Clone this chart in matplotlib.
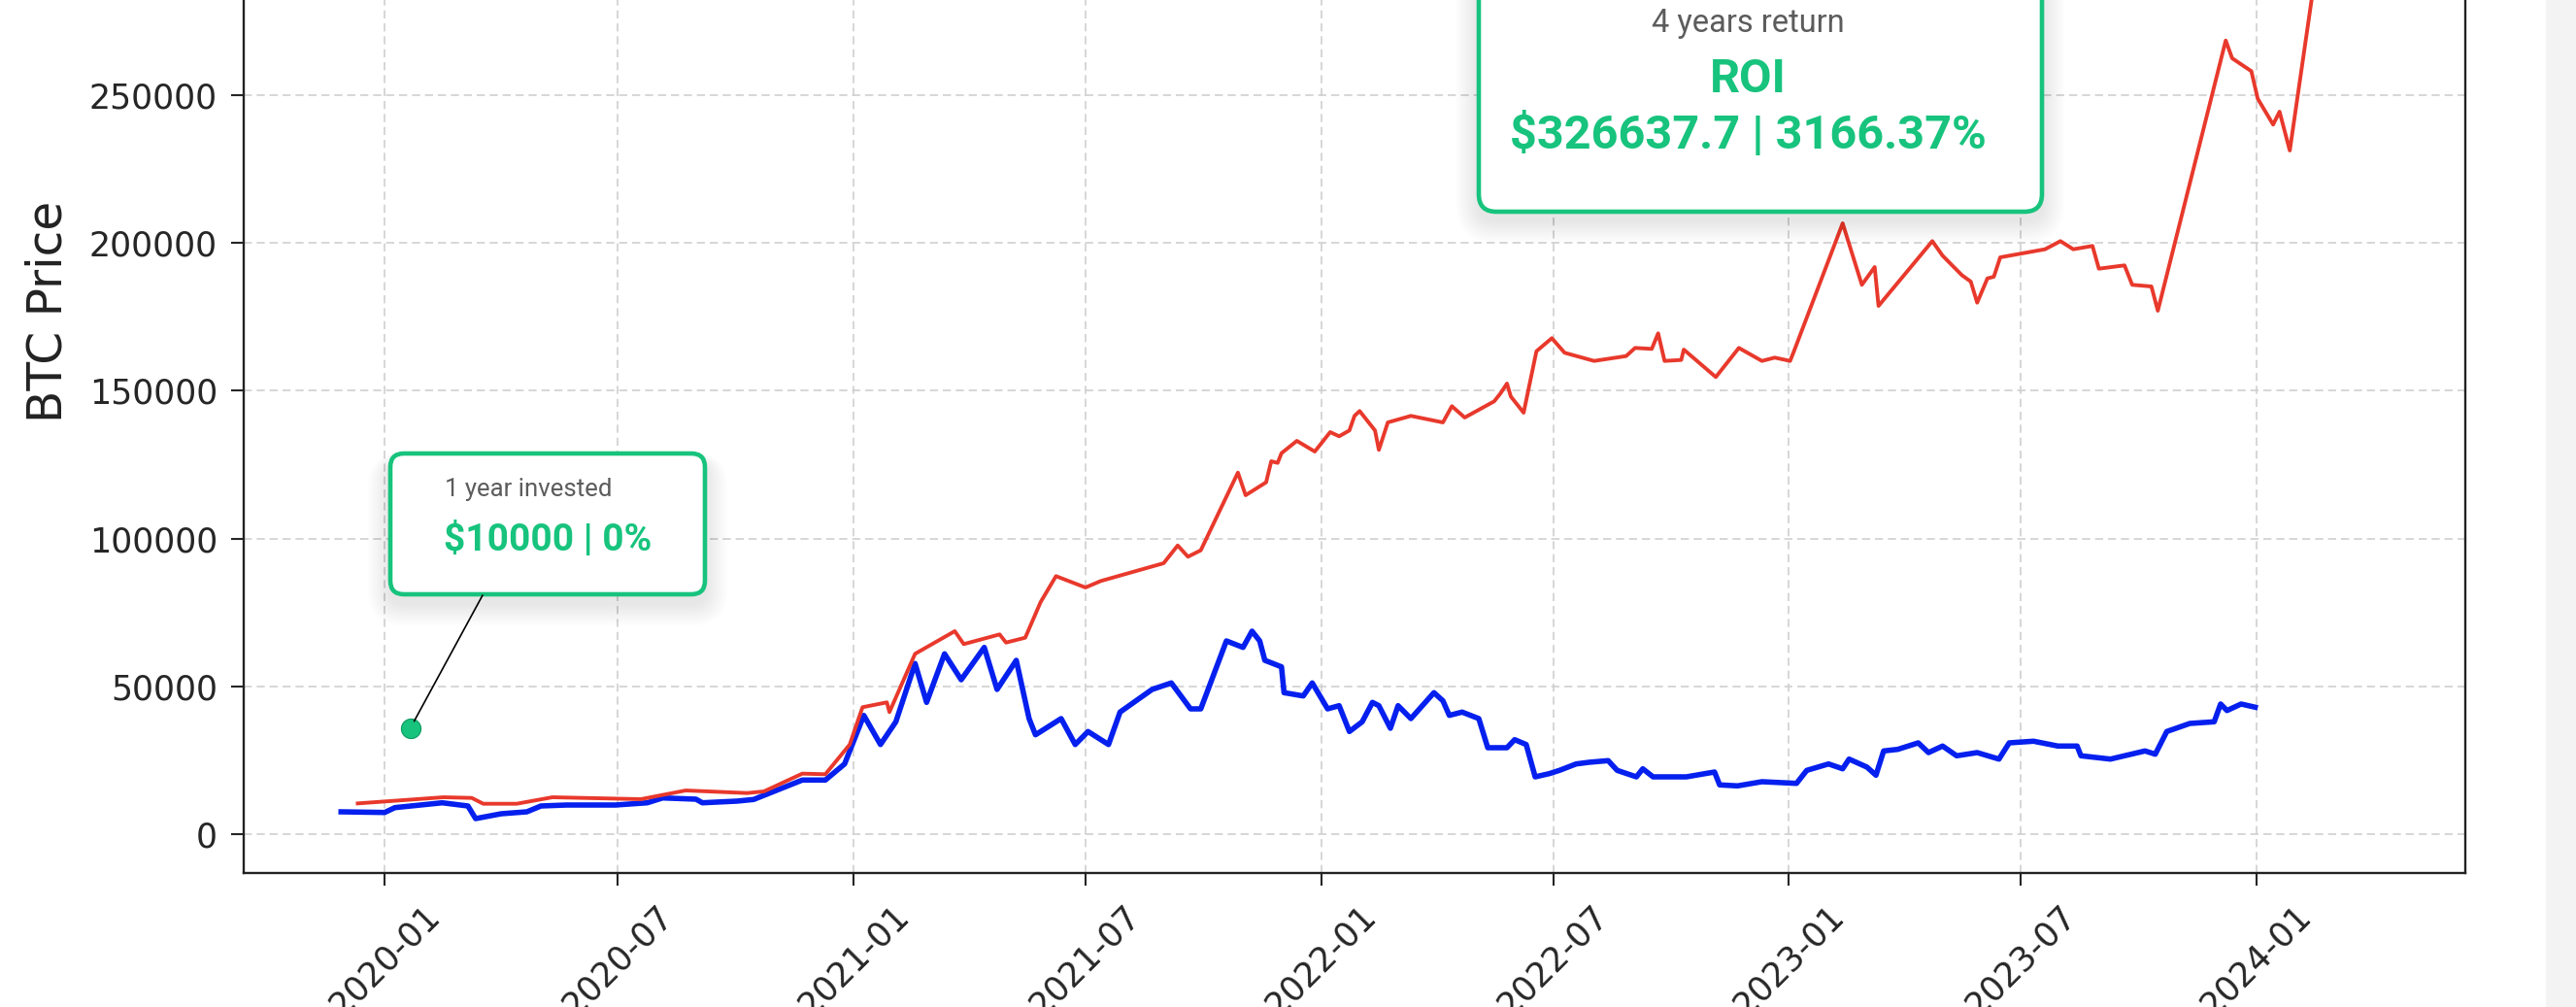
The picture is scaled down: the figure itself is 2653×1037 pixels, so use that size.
import pandas as pd
import matplotlib
matplotlib.use('Agg')
import matplotlib.pyplot as plt
import matplotlib.dates as mdates
from matplotlib.patches import FancyBboxPatch, Rectangle, ConnectionPatch

# ---------------- data ----------------
btc_dates = ['2019-11-28', '2020-01-01', '2020-01-09', '2020-02-15', '2020-03-06', '2020-03-12',
             '2020-04-01', '2020-04-21', '2020-05-02', '2020-05-22', '2020-06-29', '2020-07-24',
             '2020-08-05', '2020-08-31', '2020-09-05', '2020-10-02', '2020-10-15', '2020-11-22',
             '2020-12-10', '2020-12-25', '2021-01-09', '2021-01-22', '2021-02-03', '2021-02-18',
             '2021-02-27', '2021-03-13', '2021-03-26', '2021-04-13', '2021-04-23', '2021-05-08',
             '2021-05-18', '2021-05-23', '2021-06-12', '2021-06-23', '2021-07-03', '2021-07-19',
             '2021-07-28', '2021-08-22', '2021-09-06', '2021-09-21', '2021-09-29', '2021-10-19',
             '2021-11-01', '2021-11-08', '2021-11-14', '2021-11-18', '2021-12-01', '2021-12-03',
             '2021-12-18', '2021-12-25', '2022-01-06', '2022-01-15', '2022-01-23', '2022-02-02',
             '2022-02-10', '2022-02-15', '2022-02-24', '2022-03-02', '2022-03-12', '2022-03-30',
             '2022-04-06', '2022-04-11', '2022-04-21', '2022-05-04', '2022-05-11', '2022-05-26',
             '2022-06-01', '2022-06-10', '2022-06-17', '2022-06-28', '2022-07-06', '2022-07-19',
             '2022-07-29', '2022-08-13', '2022-08-20', '2022-09-04', '2022-09-09', '2022-09-17',
             '2022-10-13', '2022-11-04', '2022-11-08', '2022-11-22', '2022-12-11', '2023-01-07',
             '2023-01-15', '2023-02-01', '2023-02-12', '2023-02-17', '2023-03-03', '2023-03-10',
             '2023-03-16', '2023-03-27', '2023-04-12', '2023-04-20', '2023-05-01', '2023-05-12',
             '2023-05-28', '2023-06-14', '2023-06-22', '2023-07-11', '2023-07-30', '2023-08-14',
             '2023-08-17', '2023-09-09', '2023-10-06', '2023-10-14', '2023-10-23', '2023-11-10',
             '2023-11-29', '2023-12-04', '2023-12-09', '2023-12-20', '2023-12-31']
btc_price = [7555, 7330, 8970, 10610, 9530, 5260,
             6900, 7555, 9530, 9855, 9855, 10610,
             12250, 11830, 10610, 11170, 11730, 18300,
             18300, 23750, 40170, 30320, 38010, 57720,
             44580, 61000, 52230, 63170, 48950, 58800,
             39090, 33610, 39090, 30320, 34720, 30320,
             41290, 48950, 51150, 42380, 42380, 65370,
             63170, 68660, 65370, 58800, 56600, 47860,
             46750, 51150, 42380, 43460, 34720, 38010,
             44580, 43460, 35810, 43460, 39090, 47860,
             45100, 40180, 41290, 39090, 29240, 29240,
             31960, 30320, 19380, 20470, 21580, 23750,
             24310, 24870, 21580, 19380, 22110, 19380,
             19380, 21020, 16660, 16330, 17740, 17180,
             21580, 23750, 22110, 25390, 22670, 19940,
             28150, 28680, 30880, 27590, 29800, 26510,
             27590, 25390, 30880, 31440, 29800, 29800,
             26510, 25390, 28150, 27040, 34720, 37450,
             38010, 44020, 41820, 44020, 42940]

port_dates = ['2019-12-11', '2020-02-16', '2020-03-09', '2020-03-18', '2020-04-13', '2020-05-11',
              '2020-07-19', '2020-08-23', '2020-09-10', '2020-10-10', '2020-10-23', '2020-11-22',
              '2020-12-10', '2020-12-29', '2021-01-08', '2021-01-27', '2021-01-29', '2021-02-18',
              '2021-03-21', '2021-03-28', '2021-04-25', '2021-04-30', '2021-05-15', '2021-05-27',
              '2021-06-08', '2021-07-01', '2021-07-13', '2021-08-31', '2021-09-11', '2021-09-19',
              '2021-09-29', '2021-10-28', '2021-11-03', '2021-11-19', '2021-11-23', '2021-11-28',
              '2021-12-01', '2021-12-13', '2021-12-27', '2022-01-08', '2022-01-15', '2022-01-23',
              '2022-01-27', '2022-01-31', '2022-02-12', '2022-02-15', '2022-02-22', '2022-03-12',
              '2022-04-06', '2022-04-13', '2022-04-23', '2022-05-16', '2022-05-21', '2022-05-26',
              '2022-05-29', '2022-06-08', '2022-06-18', '2022-06-30', '2022-07-10', '2022-08-02',
              '2022-08-27', '2022-09-03', '2022-09-16', '2022-09-21', '2022-09-26', '2022-10-09',
              '2022-10-11', '2022-11-05', '2022-11-23', '2022-12-11', '2022-12-21', '2023-01-02',
              '2023-01-05', '2023-02-12', '2023-02-27', '2023-03-09', '2023-03-12', '2023-04-23',
              '2023-05-01', '2023-05-16', '2023-05-23', '2023-05-28', '2023-06-05', '2023-06-10',
              '2023-06-15', '2023-07-20', '2023-08-01', '2023-08-11', '2023-08-26', '2023-08-31',
              '2023-09-20', '2023-09-26', '2023-10-11', '2023-10-16', '2023-12-08', '2023-12-13',
              '2023-12-28', '2024-01-02', '2024-01-14', '2024-01-19', '2024-01-27', '2024-02-13',
              '2024-03-14', '2024-03-25']
port_value = [10400, 12480, 12250, 10280, 10280, 12480,
              11830, 14780, 14450, 13900, 14450, 20470,
              20270, 30320, 42940, 44580, 41290, 61000,
              68660, 64290, 67570, 64810, 66460, 78510,
              87280, 83440, 85640, 91650, 97660, 93850,
              96020, 122300, 114650, 119020, 126140, 125590,
              128870, 133040, 129430, 136000, 134590, 136560,
              141490, 143130, 136560, 129990, 139280, 141490,
              139280, 144770, 140930, 146410, 149140, 152420,
              148050, 142570, 163360, 167770, 162840, 160080,
              161720, 164480, 164150, 169410, 160080, 160410,
              163920, 154630, 164480, 160080, 161200, 160080,
              163360, 206630, 185830, 191840, 178700, 200610,
              195690, 189120, 186920, 179790, 188000, 188560,
              195130, 197860, 200610, 197860, 198970, 191290,
              192400, 185830, 185270, 177060, 268480, 262470,
              258100, 248770, 240040, 244400, 231260, 282180,
              349000, 326637.7]

marker_date = '2020-01-21'
marker_value = 35800

box1_title = '1 year invested'
box1_value = '$10000 | 0%'
box2_title = '4 years return'
box2_head = 'ROI'
box2_value = '$326637.7 | 3166.37%'

GREEN = '#17c37d'
GRAY_TXT = '#5c5c5c'

btc_dates = pd.to_datetime(btc_dates)
port_dates = pd.to_datetime(port_dates)

# ---------------- figure ----------------
W, H = 2653, 1037
fig = plt.figure(figsize=(W / 100, H / 100), dpi=100)

# plot area: left 251px, right 2539px, bottom 899px, top runs above the crop
ax = fig.add_axes([251 / W, (H - 899) / H, (2539 - 251) / W, (899 + 257) / H])

ax.plot(btc_dates, btc_price, color='#0520ee', linewidth=4.0, solid_joinstyle='round')
ax.plot(port_dates, port_value, color='#e8392c', linewidth=2.8, solid_joinstyle='round')
ax.plot(pd.to_datetime(marker_date), marker_value, 'o', ms=14.5, mfc=GREEN, mec='#0f9960', mew=0.8, zorder=5)

ax.set_xlim(pd.Timestamp('2019-09-13'), pd.Timestamp('2024-06-12'))
ax.set_ylim(-13140, 366600)
ax.set_yticks([0, 50000, 100000, 150000, 200000, 250000, 300000, 350000])

ax.xaxis.set_major_locator(mdates.MonthLocator(bymonth=[1, 7]))
ax.xaxis.set_major_formatter(mdates.DateFormatter('%Y-%m'))
plt.setp(ax.get_xticklabels(), rotation=45, ha='center')

ax.tick_params(labelsize=25, length=9.5, width=1.5, pad=10, colors='#262626')
for s in ax.spines.values():
    s.set_linewidth(1.7)
    s.set_color('#222222')

ax.grid(True, linestyle=(0, (5, 3)), color='#cfcfcf', linewidth=1.2)
ax.set_ylabel('BTC Price', fontsize=35, color='#222222')
ax.yaxis.set_label_coords(-0.0774, 0.5)

# ---------------- overlay in pixel coordinates (y down) ----------------
over = fig.add_axes([0, 0, 1, 1], zorder=10)
over.set_xlim(0, W)
over.set_ylim(H, 0)
over.axis('off')
over.patch.set_alpha(0)

over.add_patch(Rectangle((2622, 0), W - 2622, H, fc='#f3f3f3', ec='none'))


def card(x0, y0, x1, y1, r):
    # soft drop shadow made of stacked translucent rounded rects
    for i in range(12):
        g = 2.8 * (i + 1)
        over.add_patch(FancyBboxPatch((x0 - g * 0.7, y0 - g * 0.3 + 9), (x1 - x0) + 1.4 * g,
                                      (y1 - y0) + g * 1.0,
                                      boxstyle=f"round,pad=0,rounding_size={r + g * 0.7}",
                                      fc='black', ec='none', alpha=0.009))
    over.add_patch(FancyBboxPatch((x0, y0), x1 - x0, y1 - y0,
                                  boxstyle=f"round,pad=0,rounding_size={r}",
                                  fc='white', ec=GREEN, lw=3.3))


ann_font = ['Roboto', 'DejaVu Sans']

card(402, 467, 726, 612, 14)
over.text(458, 511, box1_title, fontsize=18.5, color=GRAY_TXT, family=ann_font, weight='normal', va='baseline')
over.text(457, 567, box1_value, fontsize=28, color=GREEN, family=ann_font, weight='bold', va='baseline')

card(1523, -60, 2103, 218, 18)
over.text(1800, 33, box2_title, fontsize=23.5, color=GRAY_TXT, family=ann_font, weight='normal',
          ha='center', va='baseline')
over.text(1800, 95, box2_head, fontsize=35, color=GREEN, family=ann_font, weight='bold',
          ha='center', va='baseline')
over.text(1800, 153, box2_value, fontsize=35, color=GREEN, family=ann_font, weight='bold',
          ha='center', va='baseline')

con = ConnectionPatch(xyA=(497, 613), coordsA=over.transData,
                      xyB=(mdates.date2num(pd.Timestamp(marker_date)), marker_value), coordsB=ax.transData,
                      color='black', linewidth=1.2, shrinkA=0, shrinkB=6, zorder=11)
fig.add_artist(con)

fig.savefig('out.png', dpi=100)
